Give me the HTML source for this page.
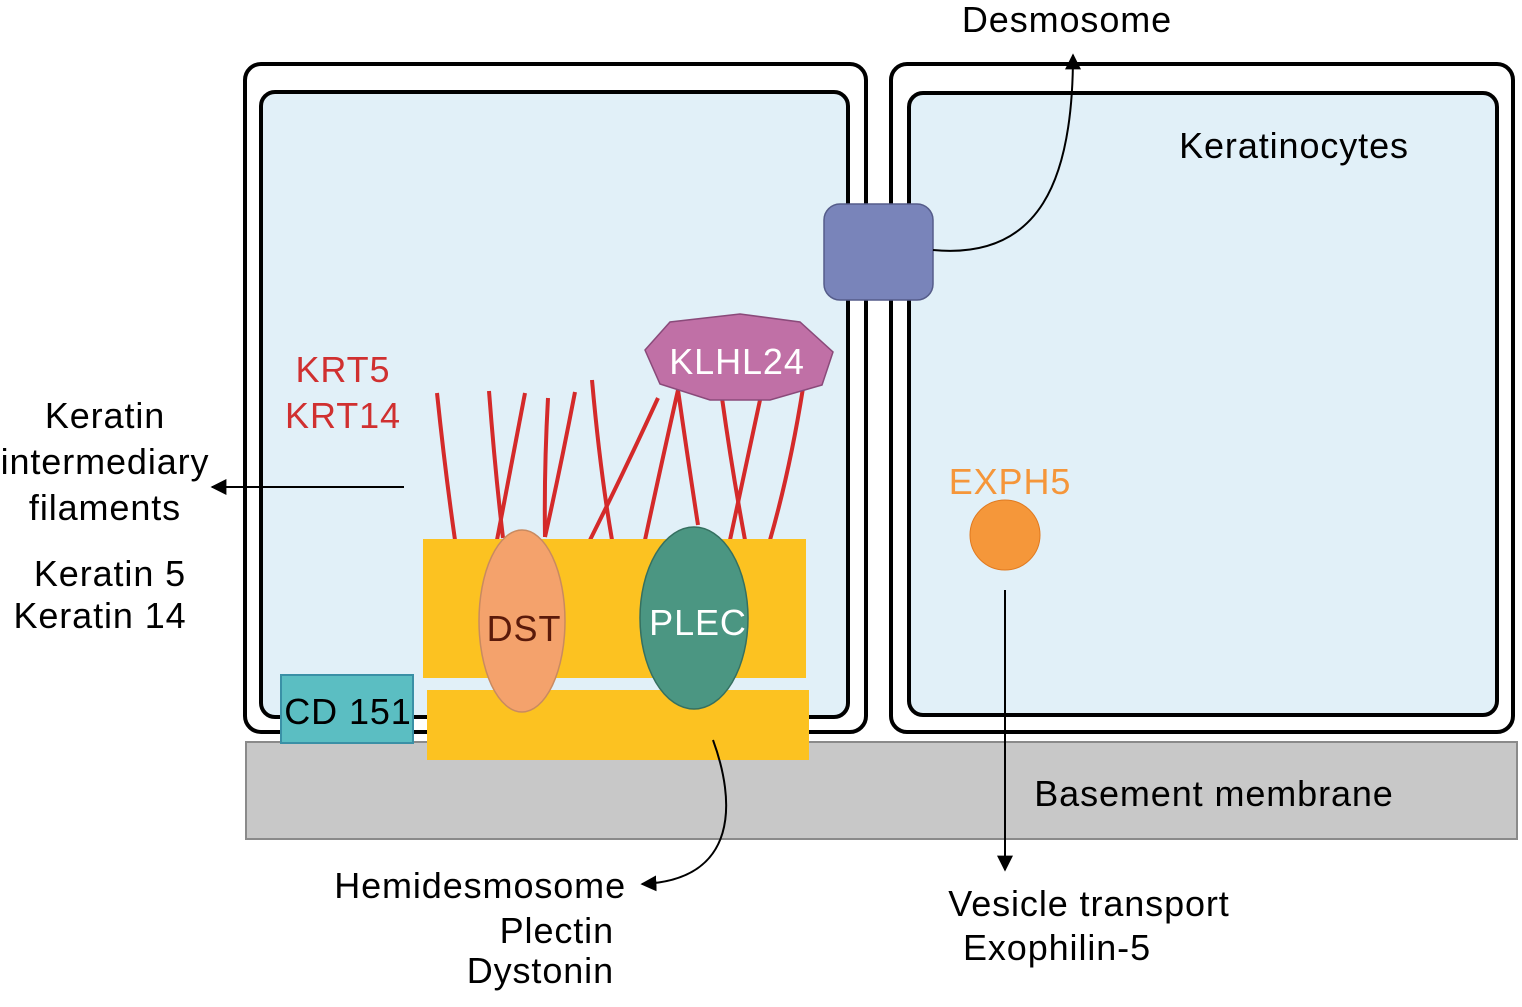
<!DOCTYPE html>
<html><head><meta charset="utf-8"><style>
body{margin:0;background:#fff;}
svg text{font-family:"Liberation Sans",Arial,sans-serif;letter-spacing:0.9px;}
</style></head><body>
<svg width="1522" height="1002" viewBox="0 0 1522 1002" xmlns="http://www.w3.org/2000/svg">
<defs><marker id="ah" viewBox="0 0 10 10" refX="9" refY="5" markerWidth="8" markerHeight="8" orient="auto-start-reverse"><path d="M0,0L10,5L0,10z" fill="#000"/></marker></defs>
<rect x="245" y="64" width="621" height="668" rx="16" fill="#fff" stroke="#000" stroke-width="4"/>
<rect x="261" y="92" width="587" height="625" rx="14" fill="#e1f0f8" stroke="#000" stroke-width="4"/>
<rect x="891" y="64" width="622" height="668" rx="16" fill="#fff" stroke="#000" stroke-width="4"/>
<rect x="909" y="93" width="588" height="622" rx="14" fill="#e1f0f8" stroke="#000" stroke-width="4"/>
<rect x="246" y="742" width="1271" height="97" fill="#c8c8c8" stroke="#8a8a8a" stroke-width="2"/>
<g stroke="#d42a2a" stroke-width="4" fill="none">
<path d="M437,393 Q445,470 455,540"/>
<path d="M489,391 Q495,470 503,538"/>
<path d="M525,393 Q510,470 497,540"/>
<path d="M548,398 Q544,470 545,537"/>
<path d="M575,392 Q560,470 545,537"/>
<path d="M592,380 Q600,470 612,540"/>
<path d="M658,398 Q625,470 590,540"/>
<path d="M678,390 Q688,460 698,525"/>
<path d="M678,390 Q660,470 645,540"/>
<path d="M722,398 Q732,470 745,540"/>
<path d="M760,400 Q745,470 730,540"/>
<path d="M803,388 Q790,470 770,540"/>
</g>
<rect x="423" y="539" width="383" height="139" fill="#fcc221"/>
<rect x="427" y="690" width="382" height="70" fill="#fcc221"/>
<ellipse cx="522" cy="621" rx="43" ry="91" fill="#f4a26c" stroke="#c98a60" stroke-width="1.5"/>
<text x="524" y="641" font-size="36" fill="#5a1a0a" text-anchor="middle">DST</text>
<ellipse cx="694" cy="618" rx="54" ry="91" fill="#4b9682" stroke="#357060" stroke-width="1.5"/>
<text x="698" y="635" font-size="36" fill="#fff" text-anchor="middle">PLEC</text>
<polygon points="740,314 800,322 833,352 822,385 770,400 710,400 660,384 645,350 670,322" fill="#c070a6" stroke="#8a4a7a" stroke-width="1.5"/>
<text x="737" y="374" font-size="36" fill="#fff" text-anchor="middle">KLHL24</text>
<rect x="281" y="675" width="132" height="68" fill="#5bbec2" stroke="#3a90a6" stroke-width="2"/>
<text x="348" y="724" font-size="36" fill="#000" text-anchor="middle">CD 151</text>
<rect x="824" y="204" width="109" height="96" rx="16" fill="#7984ba" stroke="#555c8a" stroke-width="1.5"/>
<path d="M933,250 C1040,260 1073,180 1073,55" fill="none" stroke="#000" stroke-width="2" marker-end="url(#ah)"/>
<text x="1067" y="32" font-size="36" text-anchor="middle">Desmosome</text>
<text x="1294" y="158" font-size="36" text-anchor="middle">Keratinocytes</text>
<text x="1010" y="494" font-size="36" fill="#f5963a" text-anchor="middle">EXPH5</text>
<circle cx="1005" cy="535" r="35" fill="#f5973a" stroke="#e07a20" stroke-width="1"/>
<line x1="1005" y1="590" x2="1005" y2="870" stroke="#000" stroke-width="2" marker-end="url(#ah)"/>
<text x="1089" y="916" font-size="36" text-anchor="middle">Vesicle transport</text>
<text x="1057" y="960" font-size="36" text-anchor="middle">Exophilin-5</text>
<text x="1214" y="806" font-size="36" text-anchor="middle">Basement membrane</text>
<text x="343" y="382" font-size="36" fill="#d03030" text-anchor="middle">KRT5</text>
<text x="343" y="428" font-size="36" fill="#d03030" text-anchor="middle">KRT14</text>
<line x1="404" y1="487" x2="212" y2="487" stroke="#000" stroke-width="2" marker-end="url(#ah)"/>
<text x="105" y="428" font-size="36" text-anchor="middle">Keratin</text>
<text x="105" y="474" font-size="36" text-anchor="middle">intermediary</text>
<text x="105" y="520" font-size="36" text-anchor="middle">filaments</text>
<text x="110" y="586" font-size="36" text-anchor="middle">Keratin 5</text>
<text x="100" y="628" font-size="36" text-anchor="middle">Keratin 14</text>
<path d="M713,740 C735,800 740,880 642,884" fill="none" stroke="#000" stroke-width="2" marker-end="url(#ah)"/>
<text x="626" y="898" font-size="36" text-anchor="end">Hemidesmosome</text>
<text x="614" y="943" font-size="36" text-anchor="end">Plectin</text>
<text x="614" y="983" font-size="36" text-anchor="end">Dystonin</text>
</svg>
</body></html>
